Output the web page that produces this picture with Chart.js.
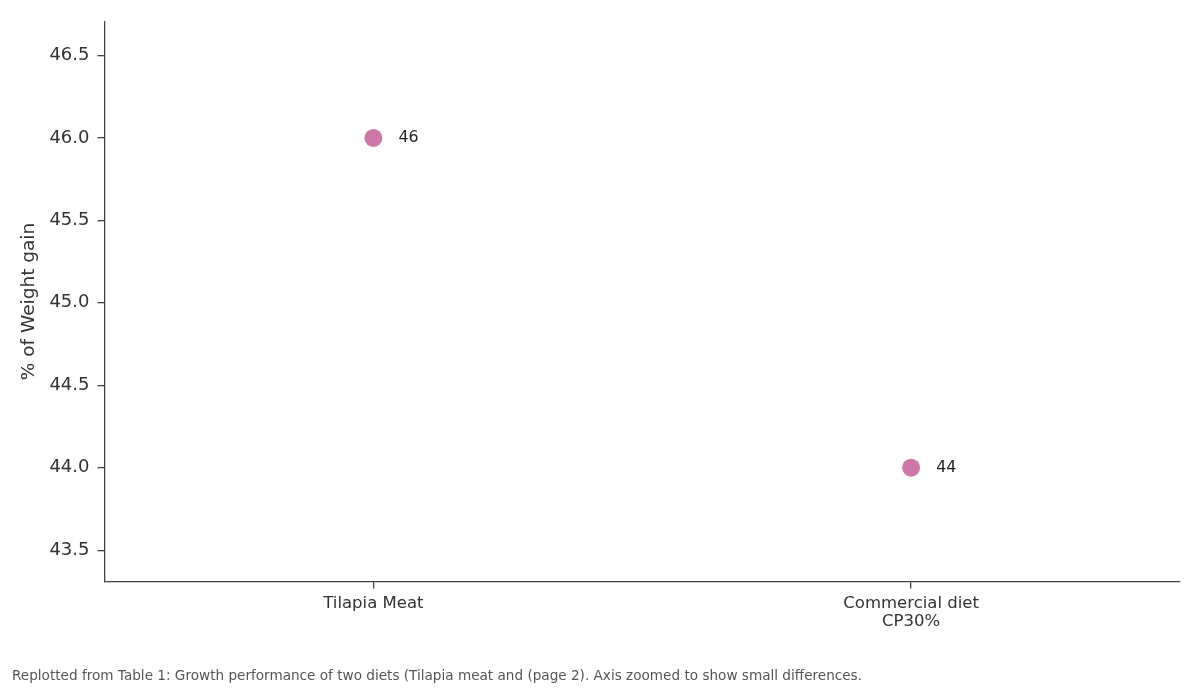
<!DOCTYPE html>
<html>
<head>
<meta charset="utf-8">
<script src="https://cdn.jsdelivr.net/npm/chart.js@4/dist/chart.umd.min.js"></script>
<style>
html,body{margin:0;padding:0;background:#fff;}
#wrap{width:1200px;height:690px;position:relative;}
</style>
</head>
<body>
<div id="wrap"><canvas id="c" width="1200" height="690"></canvas></div>
<script>
const categories = [["Tilapia Meat"], ["Commercial diet", "CP30%"]];
const weightGain = [46, 44];
const yTickValues = [43.5, 44.0, 44.5, 45.0, 45.5, 46.0, 46.5];
const yMin = 43.31, yMax = 46.706;
const footerText = "Replotted from Table 1: Growth performance of two diets (Tilapia meat and (page 2). Axis zoomed to show small differences.";

const FONT = "'DejaVu Sans', sans-serif";
const AXIS = "#444444";
const TEXT = "#333333";

const labelPlugin = {
  id: 'valueLabels',
  afterDatasetsDraw(chart) {
    const ctx = chart.ctx;
    const meta = chart.getDatasetMeta(0);
    ctx.save();
    ctx.font = "15.8px " + FONT;
    ctx.fillStyle = "#222222";
    ctx.textAlign = "left";
    ctx.textBaseline = "middle";
    meta.data.forEach((pt, i) => {
      ctx.fillText(String(weightGain[i]), pt.x + 25, pt.y);
    });
    ctx.restore();
  }
};

const footerPlugin = {
  id: 'footer',
  afterDraw(chart) {
    const ctx = chart.ctx;
    ctx.save();
    ctx.font = "13.6px " + FONT;
    ctx.fillStyle = "#555555";
    ctx.textAlign = "left";
    ctx.textBaseline = "middle";
    ctx.fillText(footerText, 12, 676);
    ctx.restore();
  }
};

new Chart(document.getElementById('c'), {
  type: 'line',
  data: {
    labels: categories,
    datasets: [{
      data: weightGain,
      showLine: false,
      pointRadius: 9,
      pointHoverRadius: 9,
      pointBackgroundColor: '#cc79a7',
      pointBorderColor: '#cc79a7',
      pointBorderWidth: 0
    }]
  },
  options: {
    responsive: false,
    animation: false,
    events: [],
    layout: { padding: { left: 0, right: 20, top: 21.5, bottom: 0 } },
    plugins: { legend: { display: false }, tooltip: { enabled: false } },
    scales: {
      x: {
        offset: true,
        grid: { display: true, drawOnChartArea: false, drawTicks: true, tickLength: 7, color: AXIS, lineWidth: 1.3 },
        border: { display: true, color: AXIS, width: 1.3 },
        ticks: { color: TEXT, font: { family: FONT, size: 16.5, lineHeight: 1.05 }, padding: 7, maxRotation: 0, autoSkip: false },
        afterFit(scale) { scale.height = 108.5; }
      },
      y: {
        min: yMin,
        max: yMax,
        grid: { display: true, drawOnChartArea: false, drawTicks: true, tickLength: 7, color: AXIS, lineWidth: 1.3 },
        border: { display: true, color: AXIS, width: 1.3 },
        ticks: {
          color: TEXT,
          font: { family: FONT, size: 18 },
          padding: 8,
          callback: (v) => Number(v).toFixed(1)
        },
        afterBuildTicks(scale) { scale.ticks = yTickValues.map(v => ({ value: v })); },
        title: { display: true, text: "% of Weight gain", color: TEXT, font: { family: FONT, size: 18.5 }, padding: { top: 18, bottom: 0 } },
        afterFit(scale) { scale.width = 104.5; }
      }
    }
  },
  plugins: [labelPlugin, footerPlugin]
});
</script>
</body>
</html>
